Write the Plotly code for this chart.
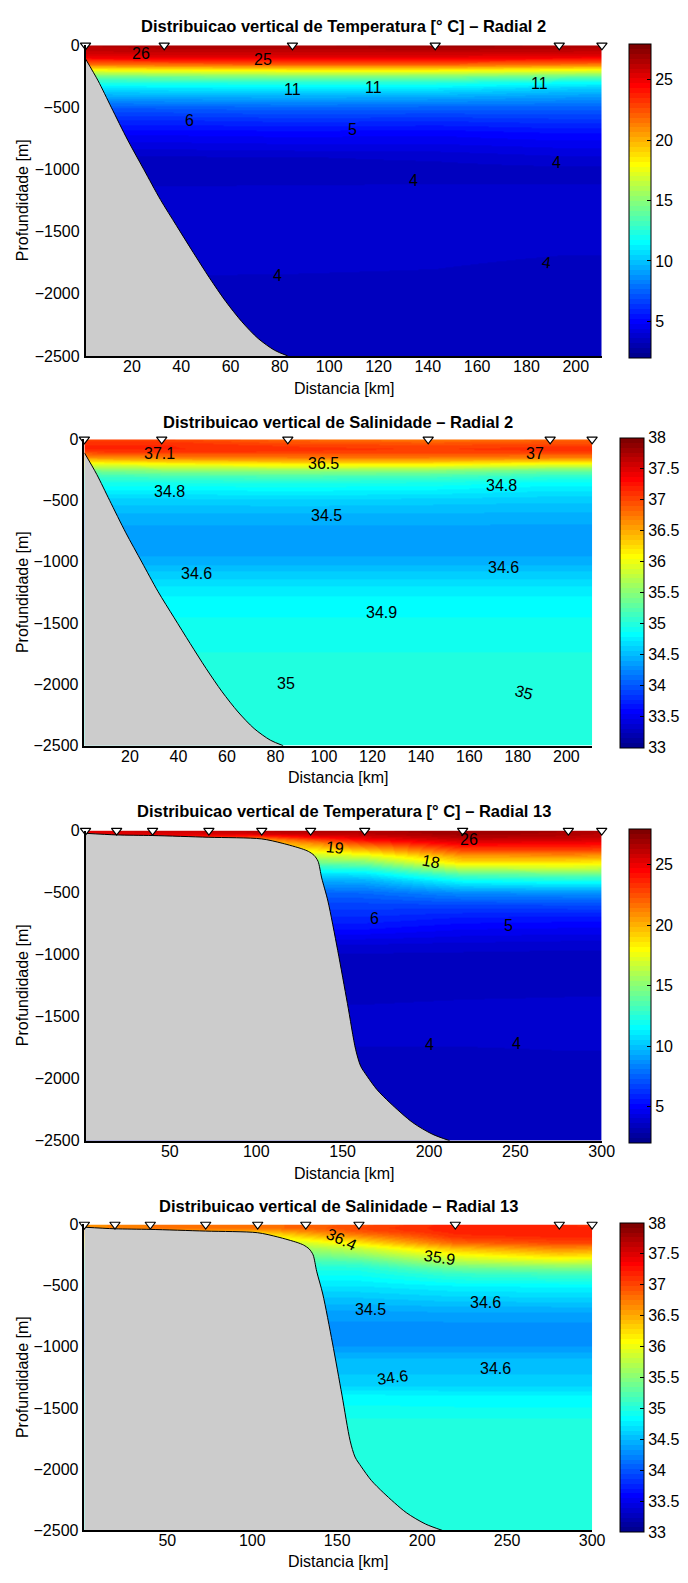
import plotly.graph_objects as go

# ---------------- data ----------------
DEPTH = [0, 25, 50, 75, 100, 150, 200, 250, 300, 350, 400, 500, 600, 700, 800,
         900, 1000, 1100, 1200, 1300, 1400, 1600, 1800, 2000, 2250, 2500]

ST_R2 = [1.2, 33.1, 85.1, 143.0, 193.3, 210.6]
ST_R13 = [1.2, 19.2, 40.0, 72.6, 103.2, 131.5, 162.8, 219.5, 280.7, 300.0]

BATHY_R2_X = [1.2, 6.3, 11.6, 18.3, 24.9, 31.5, 38.1, 44.8, 51.4, 58.0, 64.6, 71.2, 77.9, 83.2]
BATHY_R2_Z = [-110, -286, -498, -763, -1002, -1240, -1452, -1665, -1870, -2060, -2225, -2360, -2455, -2500]

BATHY_R13_X = [1.2, 19.0, 40.0, 72.6, 103.0, 115.0, 126.4, 130.2, 133.5, 135.8, 137.9, 141.5,
               147.2, 152.8, 157.6, 160.5, 164.2, 170.0, 177.4, 190.6, 201.9, 212.0]
BATHY_R13_Z = [-22, -35, -40, -54, -67, -102, -147, -168, -200, -248, -382, -568,
               -968, -1394, -1767, -1900, -1980, -2090, -2194, -2354, -2447, -2500]

# rows = DEPTH, columns = ST_R2
TEMP_R2 = [
    [26.4, 26.6, 26.6, 27.2, 26.6, 26.5],
    [26.2, 26.4, 26.4, 26.6, 26.4, 26.3],
    [25.9, 26.1, 26.0, 26.1, 26.0, 25.9],
    [25.5, 25.6, 25.6, 25.6, 25.5, 25.4],
    [24.8, 25.0, 25.1, 25.0, 24.8, 24.7],
    [21.5, 21.8, 22.0, 22.0, 21.5, 21.4],
    [17.5, 17.8, 18.0, 18.0, 17.5, 17.4],
    [14.3, 14.5, 14.8, 14.7, 14.2, 14.1],
    [12.2, 12.3, 12.5, 12.4, 11.7, 11.6],
    [10.8, 10.9, 11.0, 10.95, 10.3, 10.2],
    [9.5, 9.6, 9.7, 9.6, 9.2, 9.1],
    [7.3, 7.4, 7.6, 7.5, 7.5, 7.5],
    [6.0, 6.0, 6.2, 6.1, 6.3, 6.3],
    [5.0, 5.0, 5.1, 5.0, 5.3, 5.3],
    [4.3, 4.3, 4.4, 4.4, 4.6, 4.6],
    [3.55, 3.55, 3.6, 3.7, 3.95, 3.95],
    [3.4, 3.4, 3.4, 3.45, 3.5, 3.5],
    [3.55, 3.55, 3.58, 3.6, 3.6, 3.6],
    [3.8, 3.8, 3.8, 3.8, 3.8, 3.8],
    [3.85, 3.85, 3.85, 3.85, 3.85, 3.85],
    [3.85, 3.85, 3.85, 3.85, 3.85, 3.85],
    [3.82, 3.82, 3.82, 3.8, 3.72, 3.72],
    [3.68, 3.68, 3.66, 3.62, 3.5, 3.5],
    [3.45, 3.45, 3.45, 3.42, 3.4, 3.4],
    [3.4, 3.4, 3.4, 3.4, 3.4, 3.4],
    [3.35, 3.35, 3.35, 3.35, 3.35, 3.35],
]

SAL_R2 = [
    [37.0, 37.0, 36.85, 36.75, 36.85, 36.85],
    [37.1, 37.1, 36.95, 36.9, 36.95, 36.95],
    [37.15, 37.15, 37.05, 37.0, 37.05, 37.05],
    [37.15, 37.15, 37.1, 37.05, 37.1, 37.1],
    [37.05, 37.1, 37.05, 37.05, 37.05, 37.05],
    [36.6, 36.7, 36.75, 36.75, 36.7, 36.7],
    [35.9, 36.0, 36.1, 36.1, 35.95, 35.95],
    [35.4, 35.5, 35.55, 35.5, 35.35, 35.35],
    [35.1, 35.15, 35.2, 35.15, 35.05, 35.05],
    [34.95, 34.95, 34.97, 34.95, 34.85, 34.85],
    [34.82, 34.82, 34.84, 34.82, 34.75, 34.75],
    [34.6, 34.6, 34.62, 34.6, 34.58, 34.58],
    [34.48, 34.48, 34.48, 34.48, 34.47, 34.47],
    [34.4, 34.4, 34.4, 34.4, 34.4, 34.4],
    [34.36, 34.36, 34.36, 34.36, 34.36, 34.36],
    [34.36, 34.36, 34.36, 34.36, 34.36, 34.36],
    [34.45, 34.45, 34.45, 34.45, 34.45, 34.45],
    [34.6, 34.6, 34.6, 34.6, 34.6, 34.6],
    [34.72, 34.72, 34.72, 34.72, 34.72, 34.72],
    [34.82, 34.82, 34.82, 34.82, 34.82, 34.82],
    [34.86, 34.86, 34.86, 34.86, 34.86, 34.86],
    [34.92, 34.92, 34.92, 34.92, 34.92, 34.92],
    [34.97, 34.97, 34.97, 34.97, 34.97, 34.97],
    [35.0, 35.0, 35.0, 35.0, 35.0, 35.0],
    [35.0, 35.0, 35.0, 35.0, 35.0, 35.0],
    [34.99, 34.99, 34.99, 34.99, 34.99, 34.99],
]

# rows = DEPTH, columns = ST_R13
TEMP_R13 = [
    [25.2, 25.6, 25.8, 25.9, 26.3, 26.6, 26.6, 27.2, 26.8, 26.5],
    [24.8, 25.2, 25.4, 25.4, 25.6, 26.0, 26.3, 27.0, 26.6, 26.3],
    [24.0, 24.5, 24.5, 23.5, 23.0, 24.6, 25.5, 26.5, 26.2, 26.0],
    [23.0, 23.5, 23.0, 21.5, 20.5, 22.6, 24.4, 25.8, 25.6, 25.5],
    [22.0, 22.0, 21.5, 20.5, 19.5, 21.0, 23.0, 25.0, 24.8, 24.7],
    [18.5, 18.5, 18.5, 18.5, 18.5, 18.5, 19.8, 22.8, 23.0, 22.8],
    [16.5, 16.5, 16.5, 16.5, 16.5, 16.5, 17.2, 20.6, 20.8, 20.6],
    [14.5, 14.5, 14.5, 14.5, 14.5, 14.5, 15.0, 19.0, 18.8, 18.6],
    [12.5, 12.5, 12.5, 12.5, 12.5, 12.5, 12.8, 16.5, 16.8, 16.6],
    [10.8, 10.8, 10.8, 10.8, 10.8, 10.8, 11.0, 13.9, 14.3, 14.2],
    [9.4, 9.4, 9.4, 9.4, 9.4, 9.4, 9.5, 11.6, 12.0, 12.0],
    [7.6, 7.6, 7.6, 7.6, 7.6, 7.6, 7.7, 8.6, 8.7, 8.7],
    [6.7, 6.7, 6.7, 6.7, 6.7, 6.7, 6.7, 6.8, 6.9, 6.9],
    [6.0, 6.0, 6.0, 6.0, 6.0, 6.0, 6.0, 5.6, 5.5, 5.5],
    [5.2, 5.2, 5.2, 5.2, 5.2, 5.2, 5.2, 4.8, 4.7, 4.7],
    [4.1, 4.1, 4.1, 4.1, 4.1, 4.1, 4.1, 4.0, 3.9, 3.9],
    [3.55, 3.55, 3.55, 3.55, 3.55, 3.55, 3.55, 3.5, 3.45, 3.45],
    [3.45, 3.45, 3.45, 3.45, 3.45, 3.45, 3.45, 3.45, 3.45, 3.45],
    [3.42, 3.42, 3.42, 3.42, 3.42, 3.42, 3.42, 3.42, 3.42, 3.42],
    [3.5, 3.5, 3.5, 3.5, 3.5, 3.5, 3.5, 3.55, 3.58, 3.58],
    [3.63, 3.63, 3.63, 3.63, 3.63, 3.63, 3.63, 3.68, 3.7, 3.7],
    [3.8, 3.8, 3.8, 3.8, 3.8, 3.8, 3.8, 3.8, 3.8, 3.8],
    [3.55, 3.55, 3.55, 3.55, 3.55, 3.55, 3.55, 3.55, 3.6, 3.6],
    [3.45, 3.45, 3.45, 3.45, 3.45, 3.45, 3.45, 3.45, 3.45, 3.45],
    [3.4, 3.4, 3.4, 3.4, 3.4, 3.4, 3.4, 3.4, 3.4, 3.4],
    [3.35, 3.35, 3.35, 3.35, 3.35, 3.35, 3.35, 3.35, 3.35, 3.35],
]

SAL_R13 = [
    [36.6, 36.7, 36.75, 36.8, 36.8, 36.85, 36.95, 37.2, 37.15, 37.1],
    [36.6, 36.7, 36.75, 36.8, 36.8, 36.85, 37.0, 37.2, 37.2, 37.15],
    [36.5, 36.6, 36.6, 36.6, 36.5, 36.7, 36.95, 37.2, 37.2, 37.2],
    [36.4, 36.4, 36.4, 36.3, 36.2, 36.5, 36.8, 37.15, 37.2, 37.2],
    [36.2, 36.2, 36.2, 36.1, 36.0, 36.3, 36.6, 37.1, 37.15, 37.15],
    [35.9, 35.9, 35.9, 35.9, 35.9, 35.9, 36.2, 36.85, 37.0, 37.0],
    [35.6, 35.6, 35.6, 35.6, 35.6, 35.6, 35.8, 36.4, 36.65, 36.6],
    [35.35, 35.35, 35.35, 35.35, 35.35, 35.35, 35.5, 36.0, 36.25, 36.2],
    [35.15, 35.15, 35.15, 35.15, 35.15, 35.15, 35.2, 35.7, 35.85, 35.8],
    [35.0, 35.0, 35.0, 35.0, 35.0, 35.0, 35.0, 35.35, 35.45, 35.45],
    [34.9, 34.9, 34.9, 34.9, 34.9, 34.9, 34.9, 35.1, 35.15, 35.15],
    [34.72, 34.72, 34.72, 34.72, 34.72, 34.72, 34.72, 34.8, 34.82, 34.82],
    [34.56, 34.56, 34.56, 34.56, 34.56, 34.56, 34.56, 34.62, 34.63, 34.63],
    [34.4, 34.4, 34.4, 34.4, 34.4, 34.4, 34.4, 34.42, 34.42, 34.42],
    [34.32, 34.32, 34.32, 34.32, 34.32, 34.32, 34.32, 34.32, 34.32, 34.32],
    [34.3, 34.3, 34.3, 34.3, 34.3, 34.3, 34.3, 34.3, 34.3, 34.3],
    [34.33, 34.33, 34.33, 34.33, 34.33, 34.33, 34.33, 34.33, 34.33, 34.33],
    [34.5, 34.5, 34.5, 34.5, 34.5, 34.5, 34.5, 34.5, 34.5, 34.5],
    [34.55, 34.55, 34.55, 34.55, 34.55, 34.55, 34.55, 34.55, 34.55, 34.55],
    [34.6, 34.6, 34.6, 34.6, 34.6, 34.6, 34.6, 34.6, 34.6, 34.6],
    [34.82, 34.82, 34.82, 34.82, 34.82, 34.82, 34.82, 34.8, 34.8, 34.8],
    [34.97, 34.97, 34.97, 34.97, 34.97, 34.97, 34.97, 34.97, 34.97, 34.97],
    [34.98, 34.98, 34.98, 34.98, 34.98, 34.98, 34.98, 34.98, 34.98, 34.98],
    [34.99, 34.99, 34.99, 34.99, 34.99, 34.99, 34.99, 34.99, 34.99, 34.99],
    [34.99, 34.99, 34.99, 34.99, 34.99, 34.99, 34.99, 34.99, 34.99, 34.99],
    [34.98, 34.98, 34.98, 34.98, 34.98, 34.98, 34.98, 34.98, 34.98, 34.98],
]

# contour labels: text, distance [km], depth [m], angle
CL_T2_TEXT = ["26", "25", "11", "11", "11", "6", "5", "4", "4", "4", "4"]
CL_T2_X = [23.8, 73.0, 85.1, 118.0, 185.1, 43.3, 109.3, 134.2, 192.1, 79.2, 188.1]
CL_T2_Z = [-64, -116, -355, -337, -310, -602, -677, -1085, -942, -1855, -1748]
CL_T2_ANG = [0, 0, 0, 0, 0, 0, 0, 0, 0, 0, 8]

CL_S2_TEXT = ["37.1", "36.5", "37", "34.8", "34.8", "34.5", "34.6", "34.6", "34.9", "35", "35"]
CL_S2_X = [32.1, 100.0, 187.1, 36.4, 173.2, 101.2, 47.5, 174.1, 123.8, 84.3, 182.6]
CL_S2_Z = [-119, -194, -113, -428, -377, -624, -1095, -1049, -1410, -1991, -2069]
CL_S2_ANG = [0, 0, 0, 0, 0, 0, 0, 0, 0, 0, 15]

CL_T13_TEXT = ["19", "26", "18", "6", "5", "4", "4"]
CL_T13_X = [145.6, 222.9, 201.2, 168.6, 246.1, 200.2, 250.9]
CL_T13_Z = [-134, -73, -249, -711, -764, -1728, -1715]
CL_T13_ANG = [6, 0, 10, 0, 0, 0, 0]

CL_S13_TEXT = ["36.4", "35.9", "34.5", "34.6", "34.6", "34.6"]
CL_S13_X = [152.7, 210.0, 169.8, 237.3, 182.5, 243.2]
CL_S13_Z = [-121, -269, -695, -641, -1252, -1180]
CL_S13_ANG = [25, 8, 0, 0, -8, 0]

TITLES = ["Distribuicao vertical de Temperatura [° C] – Radial 2",
          "Distribuicao vertical de Salinidade – Radial 2",
          "Distribuicao vertical de Temperatura [° C] – Radial 13",
          "Distribuicao vertical de Salinidade – Radial 13"]
XLABEL = "Distancia [km]"
YLABEL = "Profundidade [m]"
T_TICKS = [5, 10, 15, 20, 25]
S_TICKS = [33, 33.5, 34, 34.5, 35, 35.5, 36, 36.5, 37, 37.5, 38]
T_LIM = [2, 28]
S_LIM = [33, 38]
X_DTICK = [20, 20, 50, 50]

# ---------------- style / layout ----------------
W, H = 688, 1583
FONT = "Liberation Sans, Arial, Helvetica, sans-serif"


def jet_rgb(x):
    def c(v):
        return max(0.0, min(1.0, v))
    r = c(1.5 - abs(4 * x - 3))
    g = c(1.5 - abs(4 * x - 2))
    b = c(1.5 - abs(4 * x - 1))
    return "rgb(%d,%d,%d)" % (round(r * 255), round(g * 255), round(b * 255))


JET = []
for k in range(64):
    col = jet_rgb((k + 1) / 64)
    JET.append([k / 64, col])
    JET.append([(k + 1) / 64, col])

# pixel boxes: plot x0,x1,y0,y1 ; colorbar x0,x1 ; title y, xlabel y
PANELS = [
    dict(x0=87.2, x1=613.5, y0=37.7, y1=351.7, c0=641.5, c1=663.0, ty=18.0, ly=385.0),
    dict(x0=86.0, x1=603.5, y0=436.0, y1=745.7, c0=632.0, c1=656.0, ty=418.3, ly=777.7),
    dict(x0=87.2, x1=613.3, y0=831.5, y1=1145.0, c0=641.5, c1=663.0, ty=811.7, ly=1177.7),
    dict(x0=86.0, x1=603.5, y0=1229.7, y1=1539.0, c0=632.0, c1=656.0, ty=1211.5, ly=1570.3),
]

FIELDS = [(ST_R2, TEMP_R2, T_LIM, T_TICKS, BATHY_R2_X, BATHY_R2_Z,
           (CL_T2_TEXT, CL_T2_X, CL_T2_Z, CL_T2_ANG)),
          (ST_R2, SAL_R2, S_LIM, S_TICKS, BATHY_R2_X, BATHY_R2_Z,
           (CL_S2_TEXT, CL_S2_X, CL_S2_Z, CL_S2_ANG)),
          (ST_R13, TEMP_R13, T_LIM, T_TICKS, BATHY_R13_X, BATHY_R13_Z,
           (CL_T13_TEXT, CL_T13_X, CL_T13_Z, CL_T13_ANG)),
          (ST_R13, SAL_R13, S_LIM, S_TICKS, BATHY_R13_X, BATHY_R13_Z,
           (CL_S13_TEXT, CL_S13_X, CL_S13_Z, CL_S13_ANG))]


def fx(p):
    return p / W


def fy(p):
    return 1 - p / H


fig = go.Figure()
layout = dict(width=W, height=H, margin=dict(l=0, r=0, t=0, b=0, pad=0),
              paper_bgcolor="white", plot_bgcolor="white", showlegend=False,
              font=dict(family=FONT, size=16, color="black"))
annotations = []
max_depth = max(DEPTH)
yvals = [-d for d in DEPTH]

for i, (P, F) in enumerate(zip(PANELS, FIELDS)):
    st, z, lim, cticks, bx, bz, cl = F
    n = "" if i == 0 else str(i + 1)
    xa, ya = "x" + n, "y" + n

    fig.add_trace(go.Heatmap(
        x=st, y=yvals, z=z, colorscale=JET, zmin=lim[0], zmax=lim[1],
        zsmooth="best", xaxis=xa, yaxis=ya, hoverinfo="skip",
        colorbar=dict(x=fx(P["c0"]), xanchor="left", xpad=0,
                      y=fy((P["y0"] + P["y1"]) / 2), yanchor="middle", ypad=0,
                      lenmode="pixels", len=P["y1"] - P["y0"],
                      thicknessmode="pixels", thickness=P["c1"] - P["c0"],
                      outlinewidth=1, outlinecolor="black",
                      ticks="inside", ticklen=4, tickcolor="black",
                      tickvals=cticks, tickfont=dict(family=FONT, size=16, color="black"))))

    # sea-floor: base at the deepest level, then the smoothed bathymetry filled to it
    fig.add_trace(go.Scatter(
        x=bx, y=[-max_depth for _ in bx], mode="lines",
        line=dict(color="rgba(0,0,0,0)", width=0),
        xaxis=xa, yaxis=ya, hoverinfo="skip"))
    fig.add_trace(go.Scatter(
        x=bx, y=bz, mode="lines", fill="tonexty",
        fillcolor="rgb(204,204,204)",
        line=dict(color="black", width=1, shape="spline", smoothing=0.8),
        xaxis=xa, yaxis=ya, hoverinfo="skip"))

    fig.add_trace(go.Scatter(
        x=st, y=[0 for _ in st], mode="markers", cliponaxis=False,
        marker=dict(symbol="triangle-down", size=9, color="white",
                    line=dict(color="black", width=1.2)),
        xaxis=xa, yaxis=ya, hoverinfo="skip"))

    layout["xaxis" + n] = dict(
        domain=[fx(P["x0"]), fx(P["x1"])], anchor=ya, range=[st[0], st[-1]],
        tick0=0, dtick=X_DTICK[i], ticks="", showgrid=False, zeroline=False,
        showline=True, linecolor="black", linewidth=1.5, mirror=False,
        tickfont=dict(family=FONT, size=16, color="black"), ticklabelstandoff=-5)
    layout["yaxis" + n] = dict(
        domain=[fy(P["y1"]), fy(P["y0"])], anchor=xa, range=[-max_depth, 0],
        dtick=500, ticks="", showgrid=False, zeroline=False,
        showline=True, linecolor="black", linewidth=1.5, mirror=False,
        tickfont=dict(family=FONT, size=16, color="black"), ticklabelstandoff=1)

    cx = fx((P["x0"] + P["x1"]) / 2)
    annotations.append(dict(text="<b>" + TITLES[i] + "</b>", x=cx, y=fy(P["ty"]),
                            xref="paper", yref="paper", showarrow=False,
                            xanchor="center", yanchor="middle",
                            font=dict(family=FONT, size=16.5, color="black")))
    annotations.append(dict(text=XLABEL, x=cx, y=fy(P["ly"]), xref="paper", yref="paper",
                            showarrow=False, xanchor="center", yanchor="middle",
                            font=dict(family=FONT, size=16, color="black")))
    annotations.append(dict(text=YLABEL, x=fx(23), y=fy((P["y0"] + P["y1"]) / 2),
                            xref="paper", yref="paper", showarrow=False, textangle=-90,
                            xanchor="center", yanchor="middle",
                            font=dict(family=FONT, size=16, color="black")))
    for t, lx, lz, ang in zip(*cl):
        annotations.append(dict(text=t, x=lx, y=lz, xref=xa, yref=ya, showarrow=False,
                                textangle=ang, xanchor="center", yanchor="middle",
                                font=dict(family=FONT, size=16, color="black")))

layout["annotations"] = annotations
fig.update_layout(**layout)
fig.write_html("out.html")
